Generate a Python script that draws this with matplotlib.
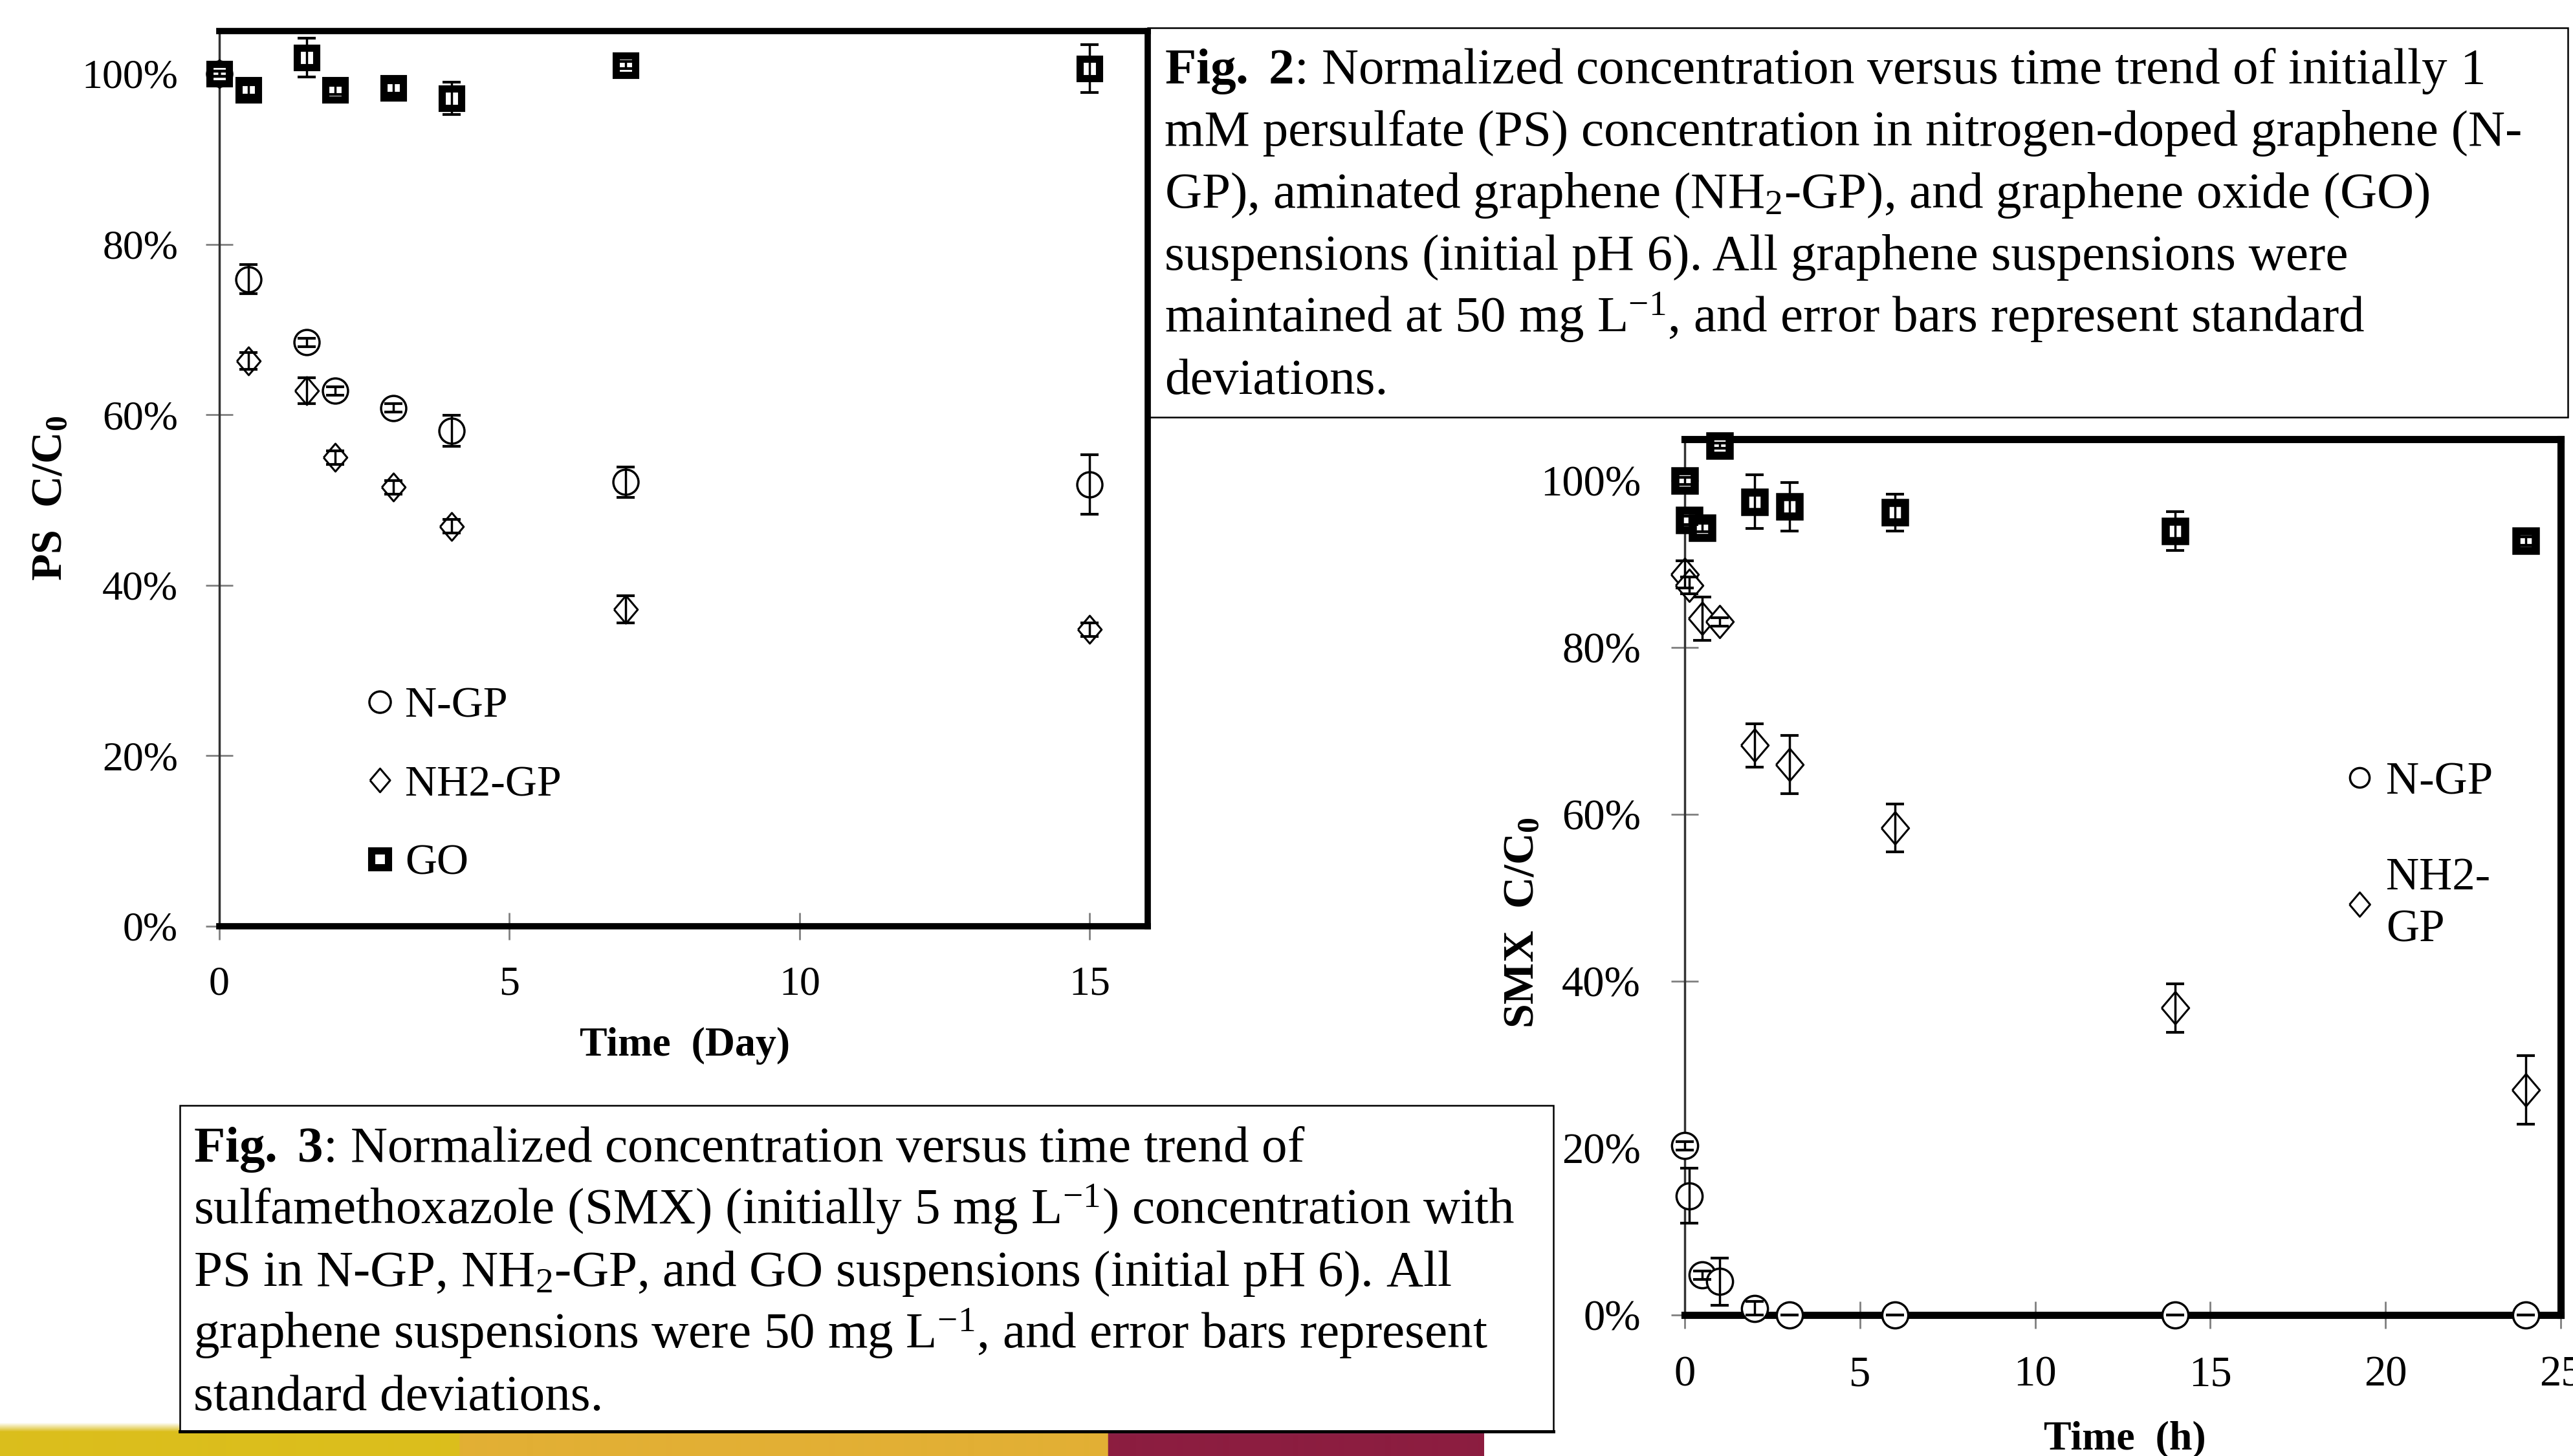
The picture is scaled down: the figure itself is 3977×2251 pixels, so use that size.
import numpy as np
import matplotlib
matplotlib.use("Agg")
import matplotlib.pyplot as plt
from matplotlib.patches import Rectangle
from matplotlib.ticker import FuncFormatter

plt.rcParams['font.family'] = ['Liberation Serif', 'DejaVu Serif']
plt.rcParams['mathtext.fontset'] = 'custom'
plt.rcParams['mathtext.rm'] = 'Liberation Serif'
plt.rcParams['mathtext.it'] = 'Liberation Serif:italic'
plt.rcParams['mathtext.bf'] = 'Liberation Serif:bold'

# ---- Fig. 2 data: persulfate, time in days ----
ps_days = [0, 0.5, 1.5, 2, 3, 4, 7, 15]
ps_ngp = [1.00, 0.759, 0.685, 0.628, 0.608, 0.581, 0.521, 0.518]
ps_ngp_err = [0.003, 0.017, 0.005, 0.005, 0.005, 0.018, 0.018, 0.035]
ps_nh2 = [1.00, 0.663, 0.628, 0.550, 0.515, 0.469, 0.372, 0.348]
ps_nh2_err = [0.003, 0.010, 0.015, 0.008, 0.008, 0.008, 0.016, 0.008]
ps_go = [1.00, 0.981, 1.019, 0.981, 0.983, 0.971, 1.010, 1.006]
ps_go_err = [0.003, 0.006, 0.023, 0.005, 0.006, 0.019, 0.004, 0.028]

# ---- Fig. 3 data: SMX, time in hours ----
smx_hours = [0, 0.13, 0.5, 1, 2, 3, 6, 14, 24]
smx_ngp = [0.203, 0.143, 0.048, 0.040, 0.008, 0.0, 0.0, 0.0, 0.0]
smx_ngp_err = [0.005, 0.033, 0.005, 0.028, 0.008, 0.0, 0.0, 0.0, 0.0]
smx_nh2 = [0.888, 0.875, 0.835, 0.831, 0.683, 0.660, 0.584, 0.368, 0.270]
smx_nh2_err = [0.016, 0.010, 0.026, 0.005, 0.026, 0.035, 0.029, 0.029, 0.041]
smx_go = [1.00, 0.953, 0.944, 1.042, 0.975, 0.969, 0.962, 0.940, 0.928]
smx_go_err = [0.004, 0.005, 0.005, 0.003, 0.032, 0.029, 0.022, 0.023, 0.005]

ytick_vals = [0, 0.2, 0.4, 0.6, 0.8, 1.0]

fig2_lines = [
    r"$\mathbf{Fig.}$ $\mathbf{2}$: Normalized concentration versus time trend of initially 1",
    "mM persulfate (PS) concentration in nitrogen-doped graphene (N-",
    "GP), aminated graphene (NH$_2$-GP), and graphene oxide (GO)",
    "suspensions (initial pH 6). All graphene suspensions were",
    "maintained at 50 mg L$^{-1}$, and error bars represent standard",
    "deviations.",
]
fig3_lines = [
    r"$\mathbf{Fig.}$ $\mathbf{3}$: Normalized concentration versus time trend of",
    "sulfamethoxazole (SMX) (initially 5 mg L$^{-1}$) concentration with",
    "PS in N-GP, NH$_2$-GP, and GO suspensions (initial pH 6). All",
    "graphene suspensions were 50 mg L$^{-1}$, and error bars represent",
    "standard deviations.",
]

W, H = 3977, 2251
fig = plt.figure(figsize=(W / 100, H / 100), dpi=100)
fig.patch.set_facecolor('white')

diamond = [(-0.85, 0), (0, 1), (0.85, 0), (0, -1), (-0.85, 0)]


def box(l, t, r, b):
    return [l / W, 1 - b / H, (r - l) / W, (b - t) / H]


def style_axes(ax, xmax, fs, ypad, xpad, sp_w):
    ax.set_xlim(0, xmax)
    ax.set_ylim(0, 1.05)
    ax.set_yticks(ytick_vals)
    ax.yaxis.set_major_formatter(FuncFormatter(lambda v, p: f"{v * 100:.0f}%"))
    ax.tick_params(axis='both', direction='inout', length=30, width=2,
                   color='#808080', labelsize=fs)
    ax.tick_params(axis='y', pad=ypad)
    ax.tick_params(axis='x', pad=xpad)
    for side in ['top', 'right', 'bottom']:
        ax.spines[side].set_linewidth(sp_w)
        ax.spines[side].set_color('black')
    ax.spines['left'].set_linewidth(2.5)
    ax.spines['left'].set_color('#333333')


def draw_series(ax, x, y, err, marker, ms, mew):
    line, = ax.plot(x, y, linestyle='none', marker=marker, ms=ms, mfc='white',
                    mec='black', mew=mew, clip_on=False, zorder=3)
    ax.errorbar(x, y, yerr=err, fmt='none', ecolor='black', elinewidth=2.5,
                capsize=10, capthick=3, clip_on=False, zorder=4)
    return line


# ---- left plot ----
ax1 = fig.add_axes(box(339, 48, 1774, 1432))
style_axes(ax1, 16, 46, 31, 29, 7)
ax1.set_xticks([0, 5, 10, 15])
l1 = draw_series(ax1, ps_days, ps_ngp, ps_ngp_err, 'o', 28, 2.5)
l2 = draw_series(ax1, ps_days, ps_nh2, ps_nh2_err, diamond, 31, 2.2)
l3 = draw_series(ax1, ps_days, ps_go, ps_go_err, 's', 22, 8)
ax1.legend([l1, l2, l3], ['N-GP', 'NH2-GP', 'GO'], loc='upper left',
           bbox_to_anchor=(0.160, 0.268), frameon=False, fontsize=49,
           handlelength=0.55, handletextpad=0.3, labelspacing=0.88,
           borderpad=0, borderaxespad=0, markerscale=0.85)

# ---- right plot ----
ax2 = fig.add_axes(box(2604, 679, 3958, 2033))
style_axes(ax2, 25, 48, 34, 30, 8)
ax2.set_xticks([0, 5, 10, 15, 20, 25])
r1 = draw_series(ax2, smx_hours, smx_ngp, smx_ngp_err, 'o', 29, 2.5)
r2 = draw_series(ax2, smx_hours, smx_nh2, smx_nh2_err, diamond, 36, 2.2)
r3 = draw_series(ax2, smx_hours, smx_go, smx_go_err, 's', 22, 9)
leg2 = ax2.legend([r1, r2], ['N-GP', 'NH2-\nGP'], loc='upper left',
                  bbox_to_anchor=(0.756, 0.632), frameon=False, fontsize=51,
                  handlelength=0.55, handletextpad=0.3, labelspacing=1.17,
                  borderpad=0, borderaxespad=0, markerscale=0.75)
for t in leg2.get_texts():
    t.set_linespacing(1.3)

# ---- axis labels ----
fig.text(78 / W, 1 - 770 / H, r"PS  C/C$_\mathbf{0}$", rotation=90,
         ha='center', va='center', fontsize=49, fontweight='bold')
fig.text(1059 / W, 1 - 1632 / H, "Time  (Day)", ha='center', va='baseline',
         fontsize=46, fontweight='bold')
fig.text(2353 / W, 1 - 1427 / H, r"SMX  C/C$_\mathbf{0}$", rotation=90,
         ha='center', va='center', fontsize=49, fontweight='bold')
fig.text(3284 / W, 1 - 2240 / H, "Time  (h)", ha='center', va='baseline',
         fontsize=46, fontweight='bold')

# ---- caption boxes ----
fig.add_artist(Rectangle((1774 / W, 1 - 645 / H), (3969 - 1774) / W,
                         (645 - 43) / H, transform=fig.transFigure,
                         fill=False, lw=1.8, ec='black', zorder=5))
for i, line in enumerate(fig2_lines):
    fig.text(1800 / W, 1 - (129 + 96 * i) / H, line, ha='left',
             va='baseline', fontsize=57)

fig.add_artist(Rectangle((278 / W, 1 - 2213 / H), (2401 - 278) / W,
                         (2213 - 1709) / H, transform=fig.transFigure,
                         fc='white', lw=1.8, ec='black', zorder=5))
fig.add_artist(plt.Line2D([278 / W, 2401 / W], [1 - 2213 / H, 1 - 2213 / H],
                          transform=fig.transFigure, color='black', lw=3.5,
                          zorder=6))
for i, line in enumerate(fig3_lines):
    fig.text(299 / W, 1 - (1796 + 96 * i) / H, line, ha='left',
             va='baseline', fontsize=57, zorder=7)

# ---- bottom colour strip ----
strip_w, strip_h = 2293, 52
img = np.ones((strip_h, strip_w, 3))
segs = [(0, 710, '#DBBE1C', '#DBBE1C'), (710, 1712, '#E2AF34', '#E2AF34'),
        (1712, 2293, '#8C1D40', '#6B4A7E')]
fade = np.clip(np.arange(strip_h) / 14.0, 0, 1)[:, None]
for x0, x1, c, ctop in segs:
    c = np.array(matplotlib.colors.to_rgb(c))
    ct = np.array(matplotlib.colors.to_rgb(ctop))
    mix = np.clip(np.arange(strip_h) / 20.0, 0, 1)[:, None]
    col = ct * (1 - mix) + c * mix
    col = 1 * (1 - fade) + col * fade
    img[:, x0:x1, :] = col[:, None, :]
sax = fig.add_axes([0, 0, strip_w / W, strip_h / H], zorder=-1)
sax.imshow(img, aspect='auto', interpolation='bilinear')
sax.axis('off')

fig.savefig("out.png", dpi=100)
